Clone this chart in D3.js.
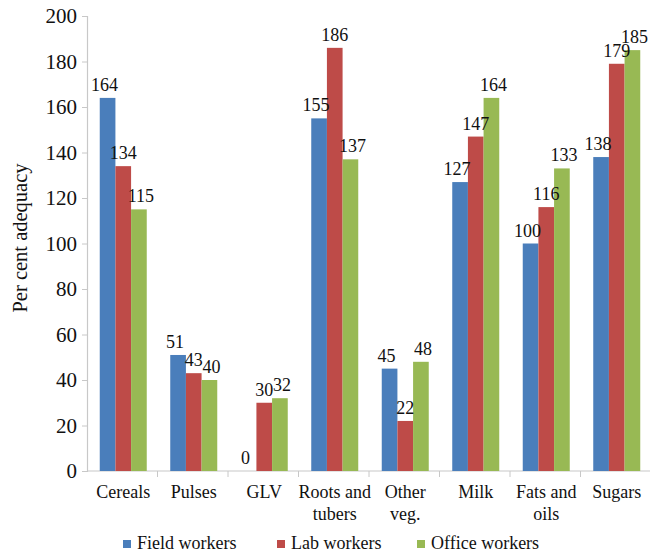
<!DOCTYPE html>
<html>
<head>
<meta charset="utf-8">
<script src="https://cdn.jsdelivr.net/npm/d3@7"></script>
<style>
  html, body { margin: 0; padding: 0; background: #fff; }
  svg text { font-family: "Liberation Serif", Tinos, "Times New Roman", "Nimbus Roman", "DejaVu Serif", serif !important; }
</style>
</head>
<body>
<svg id="chart" width="650" height="554"></svg>
<script>
// Food groups along the x axis (lines split with "|")
const categories = ["Cereals", "Pulses", "GLV", "Roots and|tubers", "Other|veg.", "Milk", "Fats and|oils", "Sugars"];
const seriesNames = ["Field workers", "Lab workers", "Office workers"];
const fieldWorkers = [164, 51, 0, 155, 45, 127, 100, 138];
const labWorkers = [134, 43, 30, 186, 22, 147, 116, 179];
const officeWorkers = [115, 40, 32, 137, 48, 164, 133, 185];
const yTicks = [0, 20, 40, 60, 80, 100, 120, 140, 160, 180, 200];
const colors = ["#4a7ebb", "#be4b48", "#98b954"];

const seriesValues = [fieldWorkers, labWorkers, officeWorkers];
const rows = categories.map((c, i) => ({
  cat: c,
  vals: seriesValues.map((s, k) => ({ key: seriesNames[k], k, v: s[i] }))
}));

const svg = d3.select("#chart");
const plotLeft = 87, plotRight = 651, plotTop = 16, plotBottom = 471;

const x = d3.scaleBand().domain(categories).range([plotLeft, plotRight]).paddingInner(0).paddingOuter(0);
const x1 = d3.scaleBand().domain(seriesNames).range([1, x.bandwidth() + 1]).paddingOuter(0.75).paddingInner(0);
const y = d3.scaleLinear().domain([0, 200]).range([plotBottom, plotTop]);

// Y axis
const yAxis = d3.axisLeft(y).tickValues(yTicks).tickSize(5).tickPadding(5);
const gy = svg.append("g").attr("transform", `translate(${plotLeft},0)`).call(yAxis);
gy.attr("font-family", null);
gy.select(".domain").attr("stroke", "#c8c8c8").attr("stroke-width", 1.2);
gy.selectAll(".tick line").attr("stroke", "#c8c8c8");
gy.selectAll(".tick text").attr("font-size", 21).attr("fill", "#111");

// X axis baseline with boundary ticks
const gx = svg.append("g");
gx.append("line").attr("x1", plotLeft).attr("x2", plotRight).attr("y1", plotBottom).attr("y2", plotBottom)
  .attr("stroke", "#c8c8c8").attr("stroke-width", 1.2);
gx.selectAll("line.bound").data(categories).join("line")
  .attr("class", "bound")
  .attr("x1", d => x(d) + x.bandwidth())
  .attr("x2", d => x(d) + x.bandwidth())
  .attr("y1", plotBottom).attr("y2", plotBottom + 6)
  .attr("stroke", "#c8c8c8");

// Category labels
gx.selectAll("text.cat").data(categories).join("text")
  .attr("class", "cat")
  .attr("x", d => x(d) + x.bandwidth() / 2 + 1)
  .attr("y", 498)
  .attr("text-anchor", "middle")
  .attr("font-size", 18)
  .attr("fill", "#111")
  .each(function(d) {
    const lines = d.split("|");
    d3.select(this).selectAll("tspan").data(lines).join("tspan")
      .attr("x", x(d) + x.bandwidth() / 2 + 1)
      .attr("dy", (l, i) => i === 0 ? 0 : 22)
      .text(l => l);
  });

// Bars
const groups = svg.append("g").selectAll("g").data(rows).join("g")
  .attr("transform", d => `translate(${x(d.cat)},0)`);

groups.selectAll("rect").data(d => d.vals).join("rect")
  .attr("x", d => x1(d.key))
  .attr("width", x1.bandwidth())
  .attr("y", d => y(d.v))
  .attr("height", d => plotBottom - y(d.v))
  .attr("fill", d => colors[d.k]);

// Value labels
const labelDx = [-3, 0, 2];
groups.selectAll("text").data(d => d.vals).join("text")
  .attr("x", d => x1(d.key) + x1.bandwidth() / 2 + labelDx[d.k])
  .attr("y", d => y(d.v) - 7)
  .attr("text-anchor", "middle")
  .attr("font-size", 18)
  .attr("fill", "#111")
  .text(d => d.v);

// Y axis title
svg.append("text")
  .attr("transform", "translate(27,238) rotate(-90)")
  .attr("text-anchor", "middle")
  .attr("font-size", 20.5)
  .attr("fill", "#111")
  .text("Per cent adequacy");

// Legend
const legendX = [123, 277, 417];
const legend = svg.append("g").selectAll("g").data(seriesNames).join("g")
  .attr("transform", (d, i) => `translate(${legendX[i]},540)`);
legend.append("rect").attr("width", 8).attr("height", 8).attr("fill", (d, i) => colors[i]);
legend.append("text").attr("x", 14).attr("y", 9).attr("font-size", 18).attr("fill", "#111").text(d => d);
</script>
</body>
</html>
